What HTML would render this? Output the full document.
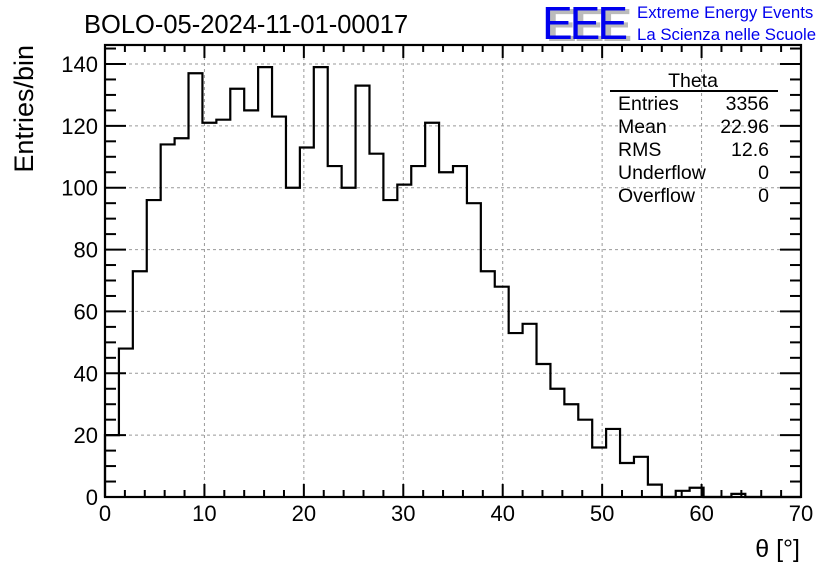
<!DOCTYPE html>
<html><head><meta charset="utf-8"><style>
body{margin:0;background:#fff;}
svg{display:block;font-family:"Liberation Sans",sans-serif;}
</style></head><body>
<svg id="chart" width="836" height="572" viewBox="0 0 836 572" xmlns="http://www.w3.org/2000/svg">
<rect width="836" height="572" fill="#fff"/>
<text x="84" y="33" font-size="25.5">BOLO-05-2024-11-01-00017</text>
<g>
<text x="546" y="41" font-size="46" fill="#bbb" font-weight="bold" letter-spacing="-3">EEE</text>
<text x="542" y="39" font-size="46" fill="#0000ee" letter-spacing="-3">EEE</text>
<text x="637" y="18" font-size="16.8" fill="#0000ee">Extreme Energy Events</text>
<text x="637" y="40" font-size="16.8" fill="#0000ee">La Scienza nelle Scuole</text>
</g>
<g id="grid"></g>
<g id="hist"></g>
<g id="axes"></g>
<g font-size="19.5">
<text x="693" y="87" text-anchor="middle">Theta</text>
<line x1="610" y1="91" x2="778" y2="91" stroke="#000" stroke-width="2"/>
<text x="618" y="110">Entries</text><text x="769" y="110" text-anchor="end">3356</text>
<text x="618" y="133">Mean</text><text x="769" y="133" text-anchor="end">22.96</text>
<text x="618" y="156">RMS</text><text x="769" y="156" text-anchor="end">12.6</text>
<text x="618" y="179">Underflow</text><text x="769" y="179" text-anchor="end">0</text>
<text x="618" y="202">Overflow</text><text x="769" y="202" text-anchor="end">0</text>
</g>
<text x="800" y="557" font-size="25" text-anchor="end">θ [°]</text>
<text transform="translate(33,45) rotate(-90)" font-size="27" text-anchor="end">Entries/bin</text>
</svg>
<script>
const binEdgesStart = 0;
const binWidth = 1.4;
const counts = [20,48,73,96,114,116,137,121,122,132,125,139,123,100,113,139,107,100,133,111,96,101,107,121,105,107,95,73,68,53,56,43,35,30,25,16,22,11,13,4,0,2,3,0,0,1,0,0,0,0];
const xTicks = [0,10,20,30,40,50,60,70];
const yTicks = [0,20,40,60,80,100,120,140];
const L=105,R=801,T=45,B=497;
const xs=v=>L+(v-0)/70*(R-L);
const ys=v=>B-v*(B-64)/140;
const NS="http://www.w3.org/2000/svg";
function mk(tag,attrs,parent){const e=document.createElementNS(NS,tag);for(const k in attrs)e.setAttribute(k,attrs[k]);parent.appendChild(e);return e;}
const grid=document.getElementById('grid'),hist=document.getElementById('hist'),axes=document.getElementById('axes');
xTicks.forEach(t=>{if(t>0&&t<70){const l=mk('line',{x1:xs(t),x2:xs(t),y1:T,y2:B,stroke:'#999','stroke-dasharray':'3,3'},grid);

}});
yTicks.forEach(t=>{if(t>0){const l=mk('line',{x1:L,x2:R,y1:ys(t),y2:ys(t),stroke:'#999','stroke-dasharray':'3,3'},grid);

}});
let d='M'+xs(binEdgesStart)+','+ys(0);
counts.forEach((c,i)=>{const x0=xs(binEdgesStart+i*binWidth),x1=xs(binEdgesStart+(i+1)*binWidth);d+=' L'+x0+','+ys(c)+' L'+x1+','+ys(c);});
d+=' L'+xs(binEdgesStart+counts.length*binWidth)+','+ys(0);
const p=mk('path',{d:d,fill:'none',stroke:'#000','stroke-width':2.2},hist);


const fr=mk('rect',{x:L,y:T,width:R-L,height:B-T,fill:'none',stroke:'#000','stroke-width':2.2},axes);


for(let v=0;v<=70;v+=2){const maj=v%10===0,len=maj?13:7;
mk('line',{x1:xs(v),x2:xs(v),y1:B,y2:B-len,stroke:'#000','stroke-width':2},axes);
mk('line',{x1:xs(v),x2:xs(v),y1:T,y2:T+len,stroke:'#000','stroke-width':2},axes);}
for(let v=0;v<=145;v+=5){const maj=v%20===0,len=maj?21:11;
mk('line',{x1:L,x2:L+len,y1:ys(v),y2:ys(v),stroke:'#000','stroke-width':2},axes);
mk('line',{x1:R,x2:R-len,y1:ys(v),y2:ys(v),stroke:'#000','stroke-width':2},axes);}
xTicks.forEach(t=>{const e=mk('text',{x:xs(t),y:521,'font-size':22,'text-anchor':'middle'},axes);e.textContent=t;

});
yTicks.forEach(t=>{const e=mk('text',{x:98,y:ys(t)+8,'font-size':22,'text-anchor':'end'},axes);e.textContent=t;

});
</script>
</body></html>
